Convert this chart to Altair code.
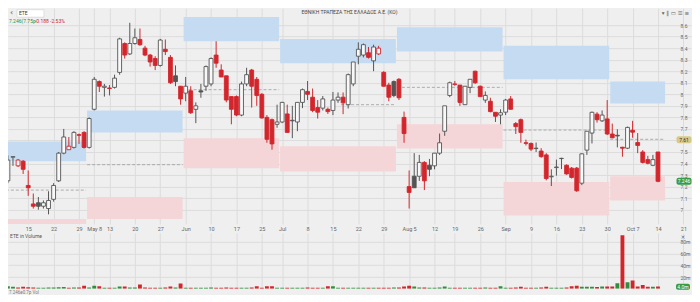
import altair as alt
import pandas as pd

# ---------------- data ----------------
idx = list(range(1, 130))
opens = [7.25, 7.455, 7.38, 7.42, 7.21, 7.05, 7.06, 7.03, 7.01, 7.09,
         7.25, 7.49, 7.52, 7.54, 7.65, 7.67, 7.54, 7.87, 8.11, 8.06,
         8.055, 8.06, 8.19, 8.44, 8.35, 8.44, 8.475, 8.40, 8.34, 8.31,
         8.25, 8.39, 8.32, 8.16, 8.07, 8.01, 8.03, 7.87, 8.03, 8.07,
         8.09, 8.34, 8.21, 8.16, 7.98, 7.98, 7.82, 8.09, 8.21, 8.13,
         8.00, 7.80, 7.78, 7.74, 7.76, 7.83, 7.775, 7.76, 7.93, 8.025,
         7.975, 7.885, 7.88, 7.87, 7.86, 7.95, 7.975, 7.91, 8.09, 8.33,
         8.34, 8.36, 8.29, 8.35, 8.19, 8.08, 8.11, 8.13, 7.80, 7.20,
         7.29, 7.29, 7.41, 7.385, 7.38, 7.49, 7.68, 7.99, 8.085, 8.08,
         7.91, 8.06, 8.20, 8.07, 7.95, 7.94, 7.844, 7.82, 7.845, 7.96,
         7.746, 7.78, 7.58, 7.574, 7.53, 7.508, 7.475, 7.285, 7.365, 7.443,
         7.385, 7.36, 7.36, 7.23, 7.516, 7.664, 7.828, 7.77, 7.787, 7.656,
         7.645, 7.541, 7.533, 7.689, 7.582, 7.50, 7.434, 7.385, 7.50]
highs = [7.47, 7.46, 7.44, 7.43, 7.34, 7.14, 7.11, 7.08, 7.16, 7.23,
         7.50, 7.70, 7.63, 7.68, 7.66, 7.68, 7.80, 8.15, 8.12, 8.09,
         8.08, 8.17, 8.49, 8.45, 8.62, 8.57, 8.57, 8.42, 8.35, 8.33,
         8.48, 8.475, 8.34, 8.25, 8.07, 8.15, 8.07, 7.93, 8.09, 8.25,
         8.32, 8.46, 8.26, 8.16, 7.98, 7.99, 8.11, 8.23, 8.22, 8.15,
         8.01, 7.82, 7.79, 7.91, 7.935, 7.91, 7.90, 7.93, 8.05, 8.115,
         8.05, 7.95, 7.985, 7.885, 8.02, 8.016, 8.016, 8.18, 8.28, 8.45,
         8.44, 8.41, 8.43, 8.42, 8.20, 8.10, 8.12, 8.14, 7.85, 7.34,
         7.49, 7.475, 7.42, 7.44, 7.49, 7.66, 7.90, 8.11, 8.115, 8.08,
         8.07, 8.13, 8.205, 8.075, 8.025, 7.97, 7.845, 7.87, 7.96, 7.985,
         7.76, 7.79, 7.607, 7.582, 7.582, 7.533, 7.49, 7.35, 7.434, 7.45,
         7.393, 7.37, 7.37, 7.49, 7.68, 7.85, 7.845, 7.86, 7.95, 7.746,
         7.697, 7.545, 7.72, 7.77, 7.664, 7.516, 7.467, 7.475, 7.50]
lows = [7.23, 7.38, 7.37, 7.31, 7.12, 7.01, 7.00, 7.01, 6.96, 7.07,
        7.24, 7.48, 7.52, 7.53, 7.57, 7.53, 7.53, 7.86, 8.02, 7.98,
        7.99, 8.05, 8.17, 8.31, 8.34, 8.43, 8.42, 8.33, 8.24, 8.21,
        8.24, 8.34, 8.09, 8.07, 7.91, 7.94, 7.83, 7.75, 7.97, 8.03,
        8.07, 8.23, 8.15, 7.93, 7.74, 7.81, 7.81, 8.07, 7.885, 7.90,
        7.79, 7.58, 7.52, 7.71, 7.75, 7.67, 7.62, 7.68, 7.88, 7.95,
        7.845, 7.79, 7.86, 7.83, 7.82, 7.926, 7.828, 7.877, 8.07, 8.26,
        8.32, 8.31, 8.20, 8.34, 8.07, 7.94, 7.975, 7.95, 7.58, 7.01,
        7.19, 7.25, 7.17, 7.29, 7.35, 7.475, 7.64, 7.975, 8.074, 7.90,
        7.91, 8.01, 8.09, 7.98, 7.926, 7.844, 7.76, 7.74, 7.82, 7.87,
        7.656, 7.58, 7.557, 7.508, 7.50, 7.45, 7.254, 7.205, 7.295, 7.352,
        7.303, 7.27, 7.155, 7.213, 7.475, 7.574, 7.755, 7.76, 7.648, 7.62,
        7.54, 7.459, 7.525, 7.623, 7.49, 7.40, 7.393, 7.377, 7.238]
closes = [7.43, 7.46, 7.43, 7.35, 7.19, 7.03, 7.03, 7.06, 7.08, 7.21,
          7.49, 7.63, 7.55, 7.67, 7.645, 7.54, 7.79, 8.13, 8.07, 8.07,
          8.05, 8.14, 8.48, 8.34, 8.44, 8.49, 8.43, 8.34, 8.28, 8.25,
          8.47, 8.37, 8.10, 8.11, 7.96, 8.07, 7.84, 7.90, 8.02, 8.24,
          8.31, 8.27, 8.15, 7.95, 7.87, 7.82, 8.09, 8.17, 8.07, 7.99,
          7.795, 7.61, 7.57, 7.76, 7.93, 7.67, 7.77, 7.93, 8.04, 8.00,
          7.86, 7.845, 7.96, 7.85, 7.95, 7.975, 7.926, 8.17, 8.28, 8.39,
          8.43, 8.32, 8.41, 8.40, 8.07, 7.975, 7.99, 7.97, 7.66, 7.15,
          7.19, 7.41, 7.25, 7.35, 7.49, 7.58, 7.90, 8.10, 8.09, 7.93,
          8.07, 8.13, 8.10, 7.98, 7.99, 7.85, 7.81, 7.84, 7.95, 7.87,
          7.72, 7.67, 7.575, 7.525, 7.533, 7.46, 7.27, 7.29, 7.37, 7.445,
          7.31, 7.28, 7.164, 7.484, 7.68, 7.844, 7.78, 7.82, 7.656, 7.623,
          7.639, 7.533, 7.713, 7.672, 7.557, 7.41, 7.402, 7.434, 7.246]
volumes = [4.5, 3.5, 2.0, 3.5, 2.5, 2.0, 1.8, 1.6, 2.2, 2.4,
           2.8, 3.0, 1.8, 2.2, 2.0, 5.0, 2.0, 5.0, 4.5, 1.8,
           1.6, 1.8, 4.0, 4.0, 2.2, 2.0, 7.5, 2.0, 1.8, 1.6,
           1.8, 2.0, 4.0, 2.2, 9.0, 1.8, 1.6, 1.8, 1.6, 1.8,
           2.0, 1.8, 1.6, 2.0, 1.8, 1.6, 1.8, 1.6, 2.0, 4.5,
           1.8, 4.5, 4.5, 1.6, 1.8, 1.6, 1.8, 1.6, 1.8, 2.0,
           1.6, 1.8, 1.6, 4.5, 4.5, 1.8, 1.6, 1.8, 1.6, 1.8,
           1.6, 1.8, 1.6, 1.8, 1.6, 1.8, 2.0, 2.2, 4.0, 5.0,
           4.0, 2.2, 2.0, 1.8, 1.6, 2.0, 4.0, 1.8, 1.6, 1.8,
           1.6, 1.8, 1.6, 1.8, 2.0, 1.8, 1.6, 4.5, 1.8, 1.6,
           2.0, 3.5, 1.8, 1.6, 1.8, 2.0, 3.5, 1.8, 1.6, 1.8,
           2.0, 4.5, 5.0, 3.5, 3.5, 3.5, 3.0, 4.0, 4.0, 4.0,
           9.5, 91.0, 11.0, 14.0, 4.0, 6.5, 3.5, 3.5, 4.0]

tick_idx = [5, 10, 15, 18, 21, 26, 31, 36, 41, 46, 51, 55, 60, 65, 70, 75, 80,
            85, 89, 94, 99, 104, 109, 114, 119, 124, 129, 134]
tick_lbl = ["15", "22", "29", "May 8", "13", "20", "27", "Jun", "10", "17", "25",
            "Jul", "8", "15", "22", "29", "Aug 5", "12", "19", "26", "Sep", "9",
            "16", "23", "30", "Oct 7", "14", "21"]

zone_first = [1, 17, 36, 55, 78, 99, 120]
zone_last = [16, 35, 54, 77, 98, 119, 130]
res_hi = [7.59, 7.86, 8.67, 8.48, 8.58, 8.42, 8.11]
res_lo = [7.42, 7.67, 8.46, 8.27, 8.37, 8.13, 7.92]
sup_hi = [6.92, 7.11, 7.62, 7.55, 7.74, 7.24, 7.29]
sup_lo = [6.80, 6.92, 7.36, 7.33, 7.53, 6.95, 7.08]
pivot = [7.17, 7.39, 8.04, 7.91, 8.06, 7.69, 7.61]
pivot_start = [1, 17, 36, 67, 78, 99, 120]

price_ticks = [round(7.0 + 0.1 * k, 1) for k in range(17)]
vol_ticks = [20, 40, 60, 80]

# ---------------- styling ----------------
RED = "#d2262c"
DARK = "#555555"
HOLLOW = "#f8f8f8"
GREEN = "#2f8f3e"
BLUE_Z = "#c5dbf1"
PINK_Z = "#f4d5d8"
BG = "#efefef"
GRID = "#dcdcdc"
FONT = "Roboto"

W = 684
HP = 216
HV = 56
XDOM = [1.02, 135.5]
YDOM = [6.877, 8.746]

rows = []
prev = None
for i, o, h, l, c, v in zip(idx, opens, highs, lows, closes, volumes):
    pc = o if prev is None else prev
    up = c >= o
    down_day = c < pc
    if up:
        fill = HOLLOW
        stroke = RED if down_day else DARK
    else:
        fill = RED if down_day else DARK
        stroke = fill
    rows.append(dict(i=i, x0=i - 0.38, x1=i + 0.38, o=o, h=h, l=l, c=c,
                     bt=max(o, c), bb=min(o, c), fill=fill, stroke=stroke,
                     vol=v, vcol=RED if down_day else GREEN))
    prev = c
df = pd.DataFrame(rows)

zones = pd.DataFrame(dict(
    z0=[f - 0.4 for f in zone_first], z1=[l + 0.4 for l in zone_last],
    p0=[p - 0.4 for p in pivot_start],
    rh=res_hi, rl=res_lo, sh=sup_hi, sl=sup_lo, pv=pivot))

xs = alt.Scale(domain=XDOM, nice=False, zero=False)
ys = alt.Scale(domain=YDOM, nice=False, zero=False)

label_expr = ("[" + ",".join("'%s'" % t for t in tick_lbl) + "][indexof(["
              + ",".join(str(t) for t in tick_idx) + "], datum.value)]")
XAX = dict(values=tick_idx, grid=True, gridColor=GRID, domain=False,
           ticks=False, labelPadding=3, labelFontSize=5.5, labelFont=FONT,
           labelColor="#666", title=None, labelFlush=False, labelOverlap=False,
           labelBound=False, labelExpr=label_expr)
YAX = dict(orient="right", values=price_ticks, grid=True, gridColor=GRID,
           domain=False, ticks=False, offset=-14, labelAlign="left",
           labelPadding=3, labelFontSize=5, labelFont=FONT, labelOverlap=False,
           labelBound=False, labelColor="#666", format=".1~f", title=None)


def PX(f):
    return alt.X(f, type="quantitative", scale=xs, axis=alt.Axis(**XAX))


def PY(f):
    return alt.Y(f, type="quantitative", scale=ys, axis=alt.Axis(**YAX))


base = alt.Chart(zones)
blue = base.mark_rect(color=BLUE_Z, clip=True).encode(
    x=PX("z0"), x2="z1:Q", y=PY("rh"), y2="rl:Q")
pink = base.mark_rect(color=PINK_Z, clip=True).encode(
    x=PX("z0"), x2="z1:Q", y=PY("sh"), y2="sl:Q")
piv = base.mark_rule(color="#9c9c9c", strokeDash=[3, 2], strokeWidth=0.8, clip=True).encode(
    x=PX("p0"), x2="z1:Q", y=PY("pv"))

cbase = alt.Chart(df)
wicks = cbase.mark_rule(strokeWidth=1, clip=True).encode(
    x=PX("i"), y=PY("l"), y2="h:Q", stroke=alt.Stroke("stroke:N", scale=None))
bodies = cbase.mark_rect(strokeWidth=0.9, clip=True).encode(
    x=PX("x0"), x2="x1:Q", y=PY("bt"), y2="bb:Q",
    fill=alt.Fill("fill:N", scale=None), stroke=alt.Stroke("stroke:N", scale=None))

# price labels on the axis
plabels = pd.DataFrame(dict(p=[7.607, 7.246], t=["7.61", "7.246"],
                            bg=["#d8c98a", "#3a9a4a"], fg=["#333333", "#ffffff"]))
plab_box = alt.Chart(plabels).mark_rect(cornerRadius=2, height=7, width=15).encode(
    x=alt.value(W - 7), y=PY("p"), fill=alt.Fill("bg:N", scale=None))
plab_txt = alt.Chart(plabels).mark_text(fontSize=5, font=FONT, baseline="middle").encode(
    x=alt.value(W - 7), y=PY("p"), text="t:N", color=alt.Color("fg:N", scale=None))

# header
hdr = pd.DataFrame(dict(a=[0]))
hbase = alt.Chart(hdr)
symbox = hbase.mark_rect(fill="white", stroke="#cfcfcf", strokeWidth=0.6).encode(
    x=alt.value(9), x2=alt.value(36), y=alt.value(1.5), y2=alt.value(9))
symtxt = hbase.mark_text(text="ETE", fontSize=5, font=FONT, align="left", baseline="middle",
                         color="#333").encode(x=alt.value(11), y=alt.value(5.3))
back = hbase.mark_text(text="‹", fontSize=8, font="DejaVu Sans", align="left", baseline="middle",
                       color="#555").encode(x=alt.value(2), y=alt.value(5))
quote1 = hbase.mark_text(text="7.246(7.75p", fontSize=5, font=FONT, align="left",
                         baseline="middle", color="#2f8f3e").encode(x=alt.value(1), y=alt.value(12.5))
quote2 = hbase.mark_text(text="-0.188  -2.53%", fontSize=5, font=FONT, align="left",
                         baseline="middle", color=RED).encode(x=alt.value(27), y=alt.value(12.5))
title = hbase.mark_text(text="ΕΘΝΙΚΗ ΤΡΑΠΕΖΑ ΤΗΣ ΕΛΛΑΔΟΣ Α.Ε. (ΚΟ)", fontSize=5, font=FONT,
                        align="center", baseline="middle", color="#444").encode(
    x=alt.value(342), y=alt.value(4))
icons = hbase.mark_text(text="▾  ‖  ▭  ☰  ≡", fontSize=5.5, font="DejaVu Sans", align="right",
                        baseline="middle", color="#666").encode(x=alt.value(682), y=alt.value(4.5))

price = alt.layer(blue, pink, piv, wicks, bodies, plab_box, plab_txt,
                  symbox, symtxt, back, quote1, quote2, title, icons).properties(width=W, height=HP)

# ---------------- volume ----------------
vs = alt.Scale(domain=[0, 95], nice=False, zero=True)
xaxis_vol = alt.Axis(values=tick_idx, grid=True, gridColor=GRID, domain=False, ticks=False,
                     labels=False, title=None)
yaxis_vol = alt.Axis(orient="right", values=vol_ticks, grid=True, gridColor=GRID, domain=False,
                     ticks=False, offset=-14, labelAlign="left", labelPadding=3,
                     labelFontSize=5, labelFont=FONT, labelColor="#666", labelOverlap=False,
                     labelExpr="datum.value + 'm'", title=None)
vbars = alt.Chart(df).mark_rect(clip=True).encode(
    x=alt.X("x0:Q", scale=xs, axis=xaxis_vol), x2="x1:Q",
    y=alt.Y("vol:Q", scale=vs, axis=yaxis_vol), y2=alt.datum(0),
    fill=alt.Fill("vcol:N", scale=None))
vlab = hbase.mark_text(text="ETE in Volume", fontSize=5, font=FONT, align="left",
                       baseline="middle", color="#555").encode(x=alt.value(2), y=alt.value(3))
vlast_box = hbase.mark_rect(fill="#3a9a4a", cornerRadius=2).encode(
    x=alt.value(W - 15), x2=alt.value(W - 1), y=alt.value(HV - 5), y2=alt.value(HV + 1))
vlast_txt = hbase.mark_text(text="4.0m", fontSize=5, font=FONT, align="center",
                            baseline="middle", color="white").encode(
    x=alt.value(W - 8), y=alt.value(HV - 2))
vclose = hbase.mark_text(text="×", fontSize=6, font="DejaVu Sans", align="center",
                         baseline="middle", color="#666").encode(x=alt.value(W - 8), y=alt.value(4))
foot = hbase.mark_text(text="7.246e0.7p Vol", fontSize=4.5, font=FONT, align="left",
                       baseline="top", color="#777").encode(x=alt.value(1), y=alt.value(HV + 1))

volume = alt.layer(vbars, vlab, vlast_box, vlast_txt, vclose, foot).properties(width=W, height=HV)

chart = alt.vconcat(price, volume, spacing=0).resolve_scale(x="shared").properties(
    padding=0, background=BG
).configure_view(stroke=None, fill=BG).configure_concat(spacing=0).configure_axis(
    labelOverlap=False)

chart.save("out.html", embed_options={"renderer": "svg", "actions": False})
